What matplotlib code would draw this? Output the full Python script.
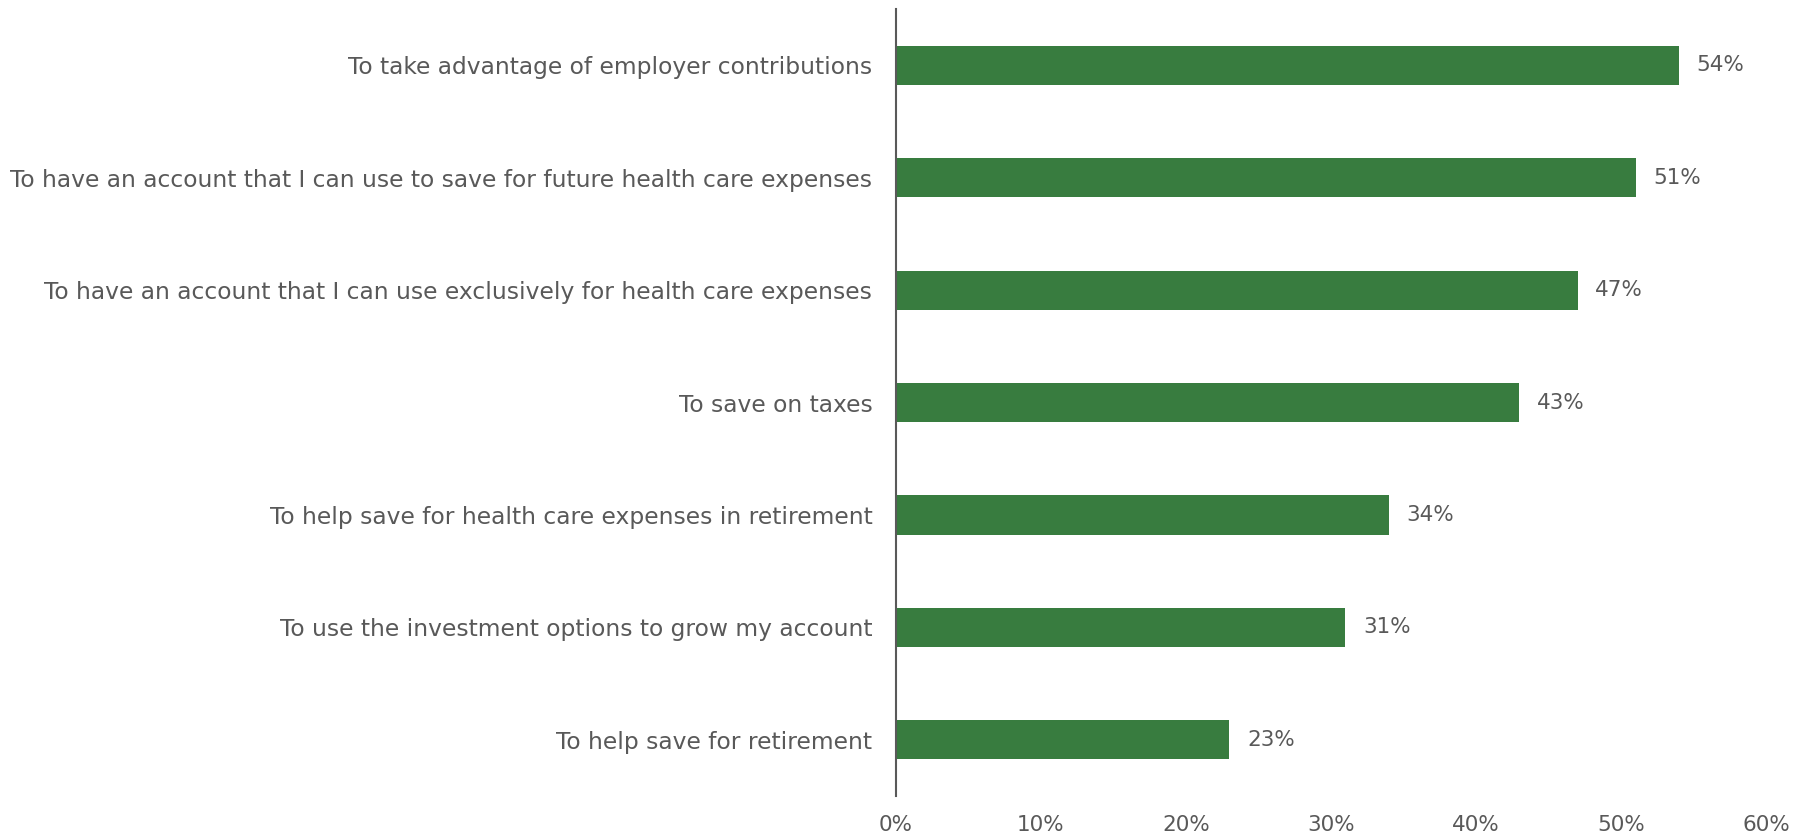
import matplotlib
matplotlib.use("Agg")
import matplotlib.pyplot as plt
from matplotlib.ticker import FuncFormatter

categories = [
    "To take advantage of employer contributions",
    "To have an account that I can use to save for future health care expenses",
    "To have an account that I can use exclusively for health care expenses",
    "To save on taxes",
    "To help save for health care expenses in retirement",
    "To use the investment options to grow my account",
    "To help save for retirement",
]
values = [54, 51, 47, 43, 34, 31, 23]
x_ticks = [0, 10, 20, 30, 40, 50, 60]

bar_color = "#387C3F"
text_color = "#595959"

plt.rcParams["font.family"] = ["DejaVu Sans"]

fig = plt.figure(figsize=(18.1, 8.35), dpi=100)
ax = fig.add_axes([0.495, 0.0467, 0.4807, 0.9423])

ypos = list(range(len(categories)))
ax.barh(ypos, values, height=0.35, color=bar_color)
ax.set_ylim(len(categories) - 0.5, -0.5)
ax.set_xlim(0, 60)

for y, v in zip(ypos, values):
    ax.text(v + 1.2, y, f"{v}%", va="center", ha="left", fontsize=15.5, color=text_color)

ax.set_yticks(ypos)
ax.set_yticklabels(categories, fontsize=16.8, color=text_color)
ax.set_xticks(x_ticks)
ax.xaxis.set_major_formatter(FuncFormatter(lambda v, p: f"{v:.0f}%"))
ax.tick_params(axis="x", length=0, labelsize=15.5, labelcolor=text_color, pad=14)
ax.tick_params(axis="y", length=0, pad=17)

for side in ["top", "right", "bottom"]:
    ax.spines[side].set_visible(False)
ax.spines["left"].set_color(text_color)
ax.spines["left"].set_linewidth(1.5)

fig.savefig("out.png", dpi=100)
